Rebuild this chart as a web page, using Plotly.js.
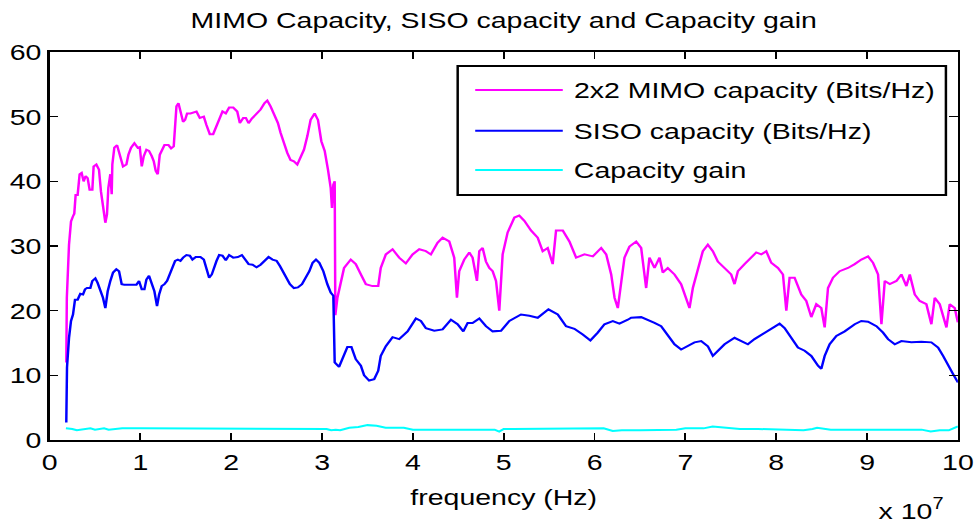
<!DOCTYPE html>
<html>
<head>
<meta charset="utf-8">
<script src="https://cdn.plot.ly/plotly-3.0.1.min.js"></script>
<style>
  html, body { margin: 0; padding: 0; background: #fff; overflow: hidden; }
  #plot { width: 790px; height: 528px; transform: scaleX(1.2392); transform-origin: 0 0; }
</style>
</head>
<body>
<div id="plot"></div>
<script>
// frequency in units of 10^7 Hz
const mimoFreq = [0.184,0.19,0.214,0.236,0.258,0.272,0.287,0.309,0.331,0.353,0.375,0.397,0.419,0.441,0.471,0.485,0.515,0.544,0.566,0.588,0.614,0.632,0.647,0.669,0.684,0.691,0.713,0.743,0.772,0.809,0.846,0.868,0.897,0.934,0.971,0.993,1.015,1.037,1.066,1.095,1.125,1.147,1.169,1.191,1.213,1.242,1.265,1.309,1.338,1.367,1.382,1.397,1.419,1.441,1.470,1.492,1.514,1.551,1.588,1.617,1.654,1.698,1.727,1.764,1.801,1.838,1.867,1.904,1.940,1.977,2.022,2.066,2.095,2.132,2.161,2.191,2.227,2.279,2.323,2.367,2.397,2.433,2.470,2.514,2.543,2.580,2.617,2.653,2.690,2.727,2.757,2.801,2.838,2.874,2.918,2.955,2.992,3.029,3.065,3.095,3.109,3.124,3.139,3.146,3.169,3.205,3.242,3.316,3.371,3.427,3.482,3.555,3.618,3.646,3.702,3.776,3.849,3.922,3.996,4.070,4.143,4.198,4.271,4.327,4.400,4.455,4.485,4.510,4.565,4.621,4.657,4.705,4.731,4.768,4.804,4.841,4.878,4.915,4.951,4.988,5.043,5.117,5.171,5.227,5.300,5.374,5.429,5.484,5.539,5.576,5.650,5.723,5.797,5.889,5.981,6.073,6.128,6.183,6.220,6.256,6.293,6.329,6.384,6.458,6.513,6.568,6.604,6.660,6.715,6.751,6.806,6.880,6.953,7.009,7.045,7.082,7.137,7.192,7.247,7.302,7.357,7.431,7.504,7.541,7.578,7.651,7.725,7.780,7.835,7.890,7.945,8.019,8.074,8.111,8.147,8.202,8.276,8.331,8.386,8.441,8.496,8.533,8.570,8.625,8.698,8.790,8.864,8.937,9.011,9.066,9.121,9.158,9.195,9.250,9.323,9.378,9.433,9.470,9.525,9.580,9.653,9.708,9.745,9.800,9.874,9.910,9.965,10.0];
const mimoCap = [12,22,30.2,33.8,34.6,35,37.9,37.9,41.1,41.3,40.0,40.8,40.5,38.7,38.7,42.3,42.6,41.8,38.4,36.4,33.6,34.9,39.0,41.1,38.0,42.6,45.2,45.6,43.9,42.3,42.6,44.1,45.2,45.9,45.2,45.3,42.3,43.9,44.9,44.7,43.9,43.1,41.6,41.1,44.1,44.9,45.6,45.6,45.1,45.4,49.2,51.6,52.1,50.8,49.2,49.5,50.5,50.5,50.7,50.8,49.8,50.0,48.7,47.3,47.3,48.7,49.5,50.8,50.5,51.4,51.4,50.8,49.0,49.8,49.8,49.0,49.7,50.5,51.1,52.1,52.5,51.6,50.3,49.0,47.5,45.7,44.4,43.3,43.1,42.6,43.6,44.9,47.0,49.5,50.5,49.5,46.2,44.7,41.8,39.0,35.9,39.5,40.0,19.3,22.0,24.6,26.6,27.9,27.2,25.6,24.1,23.8,23.8,26.6,28.7,29.5,28.2,27.3,28.7,29.5,29.2,28.7,30.5,31.3,30.7,28.2,22.0,26.1,27.9,29.0,28.2,24.6,29.2,29.7,27.6,26.6,26.1,24.6,20.0,28.7,32.1,34.4,34.7,33.9,32.4,31.3,29.2,29.7,27.2,32.4,32.4,30.7,28.2,28.7,28.4,29.7,28.7,25.6,22.0,20.4,24.6,28.2,29.9,30.7,29.7,23.5,28.2,26.6,28.2,25.9,26.6,25.6,24.1,22.0,20.4,23.5,26.6,29.2,30.2,29.2,27.6,26.6,25.6,24.1,26.1,27.2,28.2,29.0,28.7,29.2,27.4,26.6,25.6,20.0,25.1,25.1,22.5,21.5,19.0,21.0,20.4,17.4,23.5,25.1,26.1,26.6,27.2,27.9,28.4,27.4,25.6,17.9,24.6,24.1,24.6,25.6,23.8,25.6,22.5,21.5,21.0,17.9,22.0,21.0,17.4,21.0,20.4,18.2];

const sisoFreq = [0.184,0.192,0.214,0.236,0.258,0.280,0.309,0.338,0.368,0.390,0.412,0.449,0.471,0.504,0.529,0.559,0.588,0.614,0.640,0.669,0.699,0.735,0.765,0.794,0.823,0.890,0.956,0.985,1.015,1.044,1.066,1.095,1.125,1.154,1.183,1.206,1.235,1.265,1.294,1.323,1.353,1.382,1.412,1.441,1.470,1.507,1.544,1.573,1.610,1.661,1.698,1.727,1.757,1.786,1.808,1.838,1.867,1.904,1.940,1.977,2.022,2.073,2.117,2.154,2.191,2.235,2.279,2.323,2.367,2.411,2.455,2.499,2.536,2.573,2.609,2.646,2.690,2.734,2.779,2.823,2.860,2.896,2.933,2.970,3.014,3.058,3.095,3.124,3.139,3.187,3.242,3.279,3.323,3.371,3.427,3.463,3.518,3.574,3.618,3.646,3.702,3.776,3.849,3.941,4.033,4.088,4.143,4.235,4.327,4.419,4.492,4.555,4.603,4.657,4.731,4.804,4.878,4.970,5.062,5.190,5.282,5.374,5.492,5.595,5.686,5.778,5.870,5.954,6.035,6.109,6.201,6.274,6.366,6.403,6.513,6.586,6.660,6.733,6.806,6.880,6.953,7.027,7.100,7.174,7.247,7.302,7.357,7.431,7.541,7.614,7.688,7.761,7.872,7.963,8.037,8.092,8.166,8.239,8.313,8.386,8.460,8.496,8.533,8.588,8.662,8.754,8.864,8.937,9.011,9.103,9.176,9.231,9.305,9.378,9.488,9.598,9.708,9.782,9.837,9.892,9.947,10.0];
const sisoCap = [2.7,11.2,15.8,18.4,19.4,21.7,21.7,22.6,22.5,23.3,23.5,23.5,24.6,25.0,24.3,23.3,22.0,20.4,23.0,24.6,25.9,26.4,26.1,24.1,24.0,24.0,24.0,24.6,23.3,23.3,24.8,25.4,24.1,23.0,20.7,22.5,23.8,24.1,24.6,25.6,26.7,27.7,27.9,27.7,28.2,28.6,28.5,27.9,28.3,28.3,27.9,26.7,25.1,25.6,26.7,27.7,28.6,28.5,27.8,28.6,28.2,28.3,28.6,27.9,27.2,27.1,26.7,27.1,27.7,28.3,27.9,27.7,26.9,25.9,25.1,24.1,23.5,23.6,24.1,25.1,26.1,27.4,27.9,27.4,26.1,24.1,22.8,22.3,12.0,11.3,13.0,14.4,14.4,12.5,11.5,10.0,9.2,9.4,10.7,13.0,14.5,15.9,15.6,16.8,18.8,18.4,17.3,16.9,17.1,18.6,17.9,16.8,18.1,18.1,18.8,17.6,16.8,16.9,18.4,19.4,19.2,18.9,20.2,19.4,17.6,17.2,16.3,15.4,16.6,17.9,18.4,18.0,18.6,18.9,19.0,18.6,18.1,17.6,16.3,14.8,14.0,14.5,15.1,15.3,14.5,13.0,13.8,14.8,15.8,15.3,14.8,15.6,16.6,17.3,18.0,17.3,15.8,14.3,13.8,13.0,11.5,11.0,13.0,14.8,16.1,16.8,17.9,18.4,18.3,17.6,16.6,15.6,14.8,15.3,15.1,15.2,15.1,14.3,13.0,11.5,10.2,8.9];

const gainFreq = [0.18,0.25,0.3,0.45,0.5,0.6,0.65,0.8,1.0,1.5,2.0,2.5,2.9,3.05,3.1,3.15,3.2,3.3,3.4,3.5,3.6,3.7,3.8,3.9,4.0,4.3,4.6,4.9,4.95,5.0,5.1,5.3,5.6,5.8,6.0,6.1,6.2,6.3,6.5,6.7,6.9,7.0,7.2,7.3,7.45,7.6,7.8,8.0,8.1,8.3,8.4,8.45,8.6,8.8,9.0,9.2,9.4,9.6,9.7,9.8,9.9,10.0];
const gainCap = [1.8,1.7,1.5,1.8,1.6,1.8,1.6,1.8,1.8,1.8,1.8,1.8,1.8,1.7,1.5,1.6,1.5,1.9,2.0,2.3,2.2,1.9,1.9,1.9,1.6,1.6,1.6,1.6,1.3,1.7,1.7,1.7,1.7,1.8,1.8,1.8,1.4,1.5,1.5,1.6,1.6,1.8,1.8,2.1,1.9,1.7,1.7,1.6,1.5,1.5,1.7,1.9,1.6,1.6,1.5,1.5,1.6,1.6,1.3,1.5,1.5,2.1];

const xTicks = [0,1,2,3,4,5,6,7,8,9,10];
const yTicks = [0,10,20,30,40,50,60];
const seriesNames = ['2x2 MIMO capacity (Bits/Hz)', 'SISO capacity (Bits/Hz)', 'Capacity gain'];
const seriesColors = ['#ff00ff', '#0000ff', '#00ffff'];

const FONT = 'Liberation Sans, Arial, Helvetica, sans-serif';

const traces = [
  {x: mimoFreq, y: mimoCap, name: seriesNames[0]},
  {x: sisoFreq, y: sisoCap, name: seriesNames[1]},
  {x: gainFreq, y: gainCap, name: seriesNames[2]}
].map((t, i) => Object.assign(t, {
  type: 'scatter', mode: 'lines', showlegend: false,
  line: {color: seriesColors[i], width: 2}
}));

// legend box (drawn manually to match the MATLAB layout)
const legX0 = 0.4493, legX1 = 0.9868, legY0 = 0.6314, legY1 = 0.9639;
const legRowY = [0.9021, 0.7972, 0.6959];
const shapes = [{
  type: 'rect', xref: 'paper', yref: 'paper', x0: legX0, x1: legX1, y0: legY0, y1: legY1,
  line: {color: '#000', width: 2}, fillcolor: '#fff', layer: 'above'
}];
const annotations = [];
legRowY.forEach((yy, i) => {
  shapes.push({type: 'line', xref: 'paper', yref: 'paper', x0: 0.4686, x1: 0.565, y0: yy, y1: yy,
    line: {color: seriesColors[i], width: 2}, layer: 'above'});
  annotations.push({xref: 'paper', yref: 'paper', x: 0.5749, y: yy, xanchor: 'left', yanchor: 'middle',
    text: seriesNames[i], showarrow: false, font: {family: FONT, size: 23, color: '#000'}});
});
annotations.push({xref: 'paper', yref: 'paper', x: 0.9857, y: -0.222, xanchor: 'right', yanchor: 'bottom',
  text: 'x 10<sup>7</sup>', showarrow: false, font: {family: FONT, size: 23, color: '#000'}});

const axisCommon = {
  showline: true, linecolor: '#000', linewidth: 2, mirror: 'ticks',
  ticks: 'inside', ticklen: 7, tickwidth: 1.5, tickcolor: '#000',
  showgrid: false, zeroline: false,
  tickfont: {family: FONT, size: 23, color: '#000'}
};

const layout = {
  width: 790, height: 528,
  margin: {l: 40, r: 17, t: 52, b: 88},
  paper_bgcolor: '#fff', plot_bgcolor: '#fff',
  title: {text: 'MIMO Capacity, SISO capacity and Capacity gain', font: {family: FONT, size: 23, color: '#000'},
    x: 0.5, xref: 'paper', y: 0.962, yref: 'container', yanchor: 'middle'},
  xaxis: Object.assign({}, axisCommon, {range: [0, 10], tickvals: xTicks, ticktext: xTicks.map(String),
    title: {text: 'frequency (Hz)', font: {family: FONT, size: 23, color: '#000'}, standoff: 15}}),
  yaxis: Object.assign({}, axisCommon, {range: [0, 60], tickvals: yTicks, ticktext: yTicks.map(String)}),
  shapes: shapes,
  annotations: annotations
};

Plotly.newPlot('plot', traces, layout, {displayModeBar: false, staticPlot: true});
</script>
</body>
</html>
